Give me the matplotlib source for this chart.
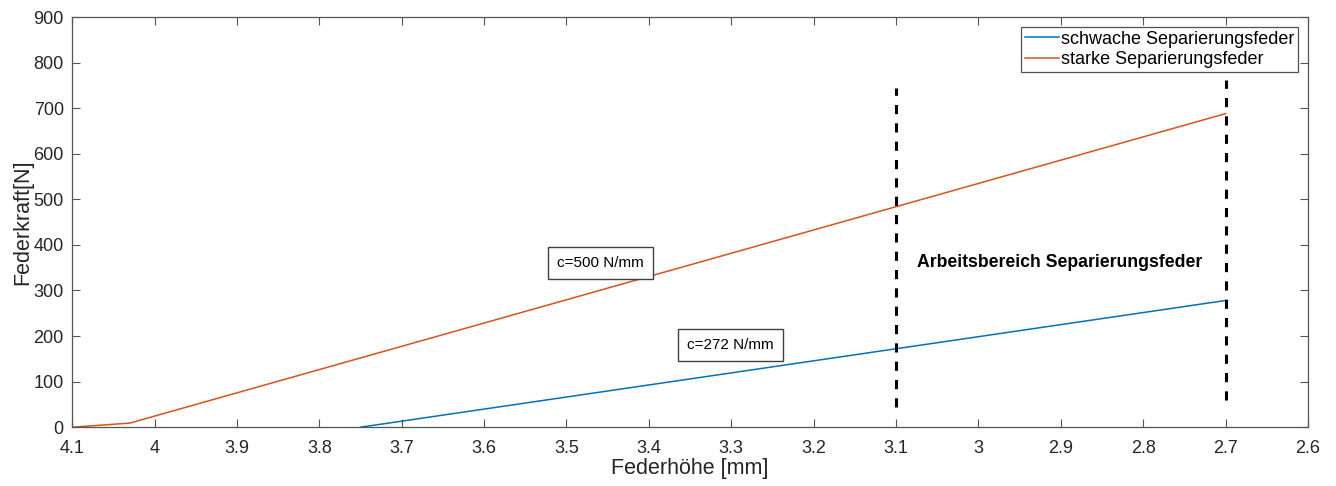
import matplotlib.pyplot as plt

plt.rcParams['font.family'] = ['Liberation Sans', 'DejaVu Sans']

# Federkennlinien (Federhöhe [mm], Federkraft [N])
schwach_x = [3.75, 2.7]
schwach_y = [0, 278]
stark_x = [4.1, 4.03, 2.7]
stark_y = [0, 9, 688]

# Arbeitsbereich (gestrichelte Linien)
grenzen_x = [3.1, 2.7]
grenzen_unten = [45, 60]
grenzen_oben = [745, 762]

xticks = [4.1, 4, 3.9, 3.8, 3.7, 3.6, 3.5, 3.4, 3.3, 3.2, 3.1, 3, 2.9, 2.8, 2.7, 2.6]
xticklabels = ["4.1", "4", "3.9", "3.8", "3.7", "3.6", "3.5", "3.4", "3.3", "3.2",
               "3.1", "3", "2.9", "2.8", "2.7", "2.6"]
yticks = [0, 100, 200, 300, 400, 500, 600, 700, 800, 900]

fig = plt.figure(figsize=(13.36, 4.86), dpi=100)
ax = fig.add_axes([0.054, 0.121, 0.925, 0.844])

ax.plot(schwach_x, schwach_y, color="#0072BD", lw=1.1, label="schwache Separierungsfeder")
ax.plot(stark_x, stark_y, color="#D95319", lw=1.1, label="starke Separierungsfeder")

for gx, gu, go in zip(grenzen_x, grenzen_unten, grenzen_oben):
    ax.plot([gx, gx], [gu, go], color="black", lw=2.2, ls=(0, (3, 3)))

box = dict(boxstyle="square,pad=0.6", fc="white", ec="#404040", lw=1)
ax.text(3.459, 360, "c=500 N/mm", fontsize=11, ha="center", va="center", bbox=box)
ax.text(3.301, 180, "c=272 N/mm", fontsize=11, ha="center", va="center", bbox=box)
ax.text(2.901, 362, "Arbeitsbereich Separierungsfeder", fontsize=12.7,
        fontweight="bold", ha="center", va="center")

ax.set_xlim(4.1, 2.6)
ax.set_ylim(0, 900)
ax.set_xticks(xticks)
ax.set_xticklabels(xticklabels)
ax.set_yticks(yticks)
ax.tick_params(direction="in", top=True, right=True, labelsize=13, length=6,
               color="#555555", labelcolor="#262626")
ax.tick_params(axis="x", pad=9)
ax.tick_params(axis="y", pad=6)
for s in ax.spines.values():
    s.set_color("#555555")
    s.set_linewidth(0.9)

ax.set_xlabel("Federhöhe [mm]", fontsize=15.5, color="#262626", labelpad=1)
ax.set_ylabel("Federkraft[N]", fontsize=15.5, color="#262626", labelpad=0)

leg = ax.legend(loc="upper right", fontsize=13, frameon=True, fancybox=False,
                borderaxespad=0.55, handlelength=1.9, handletextpad=0.1,
                borderpad=0.2, labelspacing=0.2)
leg.get_frame().set_edgecolor("#262626")
leg.get_frame().set_linewidth(0.9)

fig.savefig("out.png", dpi=100)
